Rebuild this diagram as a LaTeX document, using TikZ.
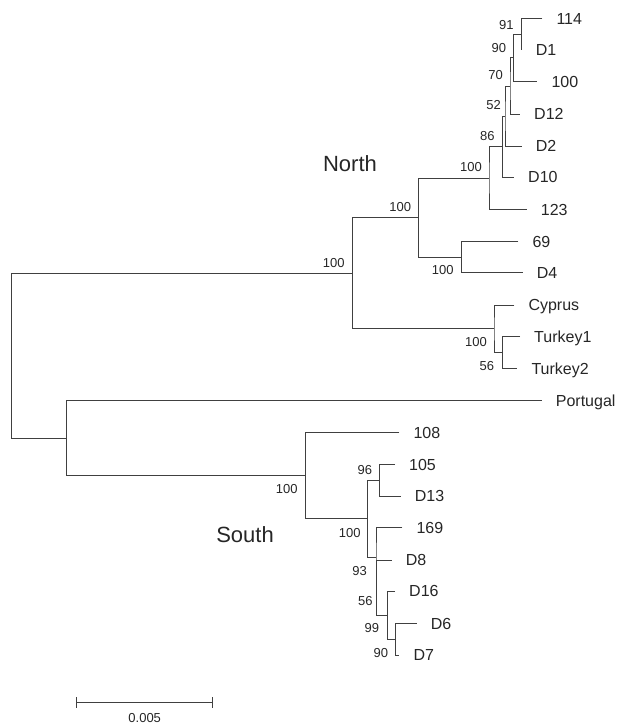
\documentclass[tikz,border=0pt]{standalone}
\usepackage{fontspec}
\setmainfont{Liberation Sans}
\usetikzlibrary{positioning}

\begin{document}
\begin{tikzpicture}
    [x=1pt, y=-1pt,
    line join=miter,
    ast/.style={draw=black!75, line width=1pt},
    leaf/.style={inner sep=0pt, text=black!85, text height=11.5pt, text depth=0pt,
                 font=\fontsize{16}{16}\selectfont},
    boot/.style={inner sep=0pt, text=black!85, text height=9.3pt, text depth=0pt,
                 font=\fontsize{13}{13}\selectfont},
    clade/.style={inner sep=0pt, text=black!85, font=\fontsize{22}{22}\selectfont}]

    \useasboundingbox (0,0) rectangle (621,726);

    % Verzweigungen
    \coordinate (r)    at (11.7, 355.7);
    \coordinate (n0)   at (352.7,273.2);
    \coordinate (nB)   at (418.3,217.6);
    \coordinate (nA)   at (489.0,178.0);
    \coordinate (n86)  at (502.7,146.5);
    \coordinate (n52)  at (505.0,116.0);
    \coordinate (n70)  at (510.0, 86.0);
    \coordinate (n90)  at (513.3, 57.9);
    \coordinate (n91)  at (521.7, 34.2);
    \coordinate (n69)  at (461.7,257.2);
    \coordinate (nCT)  at (494.0,328.8);
    \coordinate (nT)   at (502.3,352.5);
    \coordinate (nP)   at (66.7, 438.2);
    \coordinate (nS)   at (305.7,475.6);
    \coordinate (nS2)  at (367.7,518.9);
    \coordinate (n96)  at (379.3,480.2);
    \coordinate (n93)  at (376.0,557.6);
    \coordinate (n56)  at (376.7,587.5);
    \coordinate (n99)  at (387.3,615.1);
    \coordinate (n90s) at (395.3,639.2);

    % Blattenden
    \coordinate (t114)  at (542.3, 18.3);
    \coordinate (tD1)   at (521.7, 50.0);
    \coordinate (t100)  at (537.3, 81.7);
    \coordinate (tD12)  at (520.0,114.0);
    \coordinate (tD2)   at (521.7,146.0);
    \coordinate (tD10)  at (514.0,177.0);
    \coordinate (t123)  at (526.7,209.5);
    \coordinate (t69)   at (518.3,241.7);
    \coordinate (tD4)   at (522.7,272.7);
    \coordinate (tCy)   at (514.3,305.0);
    \coordinate (tT1)   at (520.0,336.7);
    \coordinate (tT2)   at (517.3,368.3);
    \coordinate (tPor)  at (541.7,400.7);
    \coordinate (t108)  at (399.3,432.3);
    \coordinate (t105)  at (395.0,464.3);
    \coordinate (tD13)  at (400.7,496.0);
    \coordinate (t169)  at (402.3,527.7);
    \coordinate (tD8)   at (391.7,560.0);
    \coordinate (tD16)  at (395.0,591.0);
    \coordinate (tD6)   at (416.7,623.3);
    \coordinate (tD7)   at (399.3,655.0);

    % Aeste
    \draw[ast] (n0) -| (r) |- (nP);
    \draw[ast] (nB) -| (n0) |- (nCT);
    \draw[ast] (nA) -| (nB) |- (n69);
    \draw[ast] (n86) -| (nA) |- (t123);
    \draw[ast] (n52) -| (n86) |- (tD10);
    \draw[ast] (n70) -| (n52) |- (tD2);
    \draw[ast] (n90) -| (n70) |- (tD12);
    \draw[ast] (n91) -| (n90) |- (t100);
    \draw[ast] (t114) -| (n91) |- (tD1);
    \draw[ast] (t69) -| (n69) |- (tD4);
    \draw[ast] (tCy) -| (nCT) |- (nT);
    \draw[ast] (tT1) -| (nT) |- (tT2);
    \draw[ast] (tPor) -| (nP) |- (nS);
    \draw[ast] (t108) -| (nS) |- (nS2);
    \draw[ast] (n96) -| (nS2) |- (n93);
    \draw[ast] (t105) -| (n96) |- (tD13);
    \draw[ast] (t169) -| (n93) |- (n56);
    \draw[ast] (tD8) -| (n56) |- (n99);
    \draw[ast] (tD16) -| (n99) |- (n90s);
    \draw[ast] (tD6) -| (n90s) |- (tD7);

    % Taxa
    \node[leaf, right=14pt of t114]  (l114)  {114};
    \node[leaf, right=14pt of tD1]   (lD1)   {D1};
    \node[leaf, right=14pt of t100]  (l100)  {100};
    \node[leaf, right=14pt of tD12]  (lD12)  {D12};
    \node[leaf, right=14pt of tD2]   (lD2)   {D2};
    \node[leaf, right=14pt of tD10]  (lD10)  {D10};
    \node[leaf, right=14pt of t123]  (l123)  {123};
    \node[leaf, right=14pt of t69]   (l69)   {69};
    \node[leaf, right=14pt of tD4]   (lD4)   {D4};
    \node[leaf, right=14pt of tCy]   (lCy)   {Cyprus};
    \node[leaf, right=14pt of tT1]   (lT1)   {Turkey1};
    \node[leaf, right=14pt of tT2]   (lT2)   {Turkey2};
    \node[leaf, right=14pt of tPor]  (lPor)  {Portugal};
    \node[leaf, right=14pt of t108]  (l108)  {108};
    \node[leaf, right=14pt of t105]  (l105)  {105};
    \node[leaf, right=14pt of tD13]  (lD13)  {D13};
    \node[leaf, right=14pt of t169]  (l169)  {169};
    \node[leaf, right=14pt of tD8]   (lD8)   {D8};
    \node[leaf, right=14pt of tD16]  (lD16)  {D16};
    \node[leaf, right=14pt of tD6]   (lD6)   {D6};
    \node[leaf, right=14pt of tD7]   (lD7)   {D7};

    % Bootstrap-Werte
    \node[boot, above left=5pt and 8pt of n91]  (b91)  {91};
    \node[boot, above left=5pt and 7pt of n90]  (b90)  {90};
    \node[boot, above left=6pt and 7pt of n70]  (b70)  {70};
    \node[boot, above left=6pt and 4pt of n52]  (b52)  {52};
    \node[boot, above left=6pt and 8pt of n86]  (b86)  {86};
    \node[boot, above left=6pt and 7pt of nA]   (bA)   {100};
    \node[boot, above left=6pt and 7pt of nB]   (bB)   {100};
    \node[boot, above left=6pt and 8pt of n0]   (b0)   {100};
    \node[boot, above left=6pt and 7pt of n96]  (b96)  {96};
    \node[boot, below left=8pt and 8pt of n69]  (b69)  {100};
    \node[boot, below left=8pt and 7pt of nCT]  (bCT)  {100};
    \node[boot, below left=8pt and 8pt of nT]   (bT)   {56};
    \node[boot, below left=8pt and 8pt of nS]   (bS)   {100};
    \node[boot, below left=9pt and 7pt of nS2]  (bS2)  {100};
    \node[boot, below left=8pt and 9pt of n93]  (b93)  {93};
    \node[boot, below left=8pt and 4pt of n56]  (b56)  {56};
    \node[boot, below left=8pt and 8pt of n99]  (b99)  {99};
    \node[boot, below left=9pt and 7pt of n90s] (b90s) {90};

    % Gruppen
    \node[clade] (north) at (350,163.7) {North};
    \node[clade] (south) at (245,534.5) {South};

    % Massstab
    \coordinate (sa) at (76.7,702.7);
    \coordinate (sm) at (144.7,702.7);
    \coordinate (sb) at (212.7,702.7);
    \draw[ast] (sa) -- (sb);
    \draw[ast] ([yshift=5.5pt]sa) -- ([yshift=-5.5pt]sa);
    \draw[ast] ([yshift=5.5pt]sb) -- ([yshift=-5.5pt]sb);
    \node[boot, below=10pt of sm] (scale) {0.005};
\end{tikzpicture}
\end{document}
